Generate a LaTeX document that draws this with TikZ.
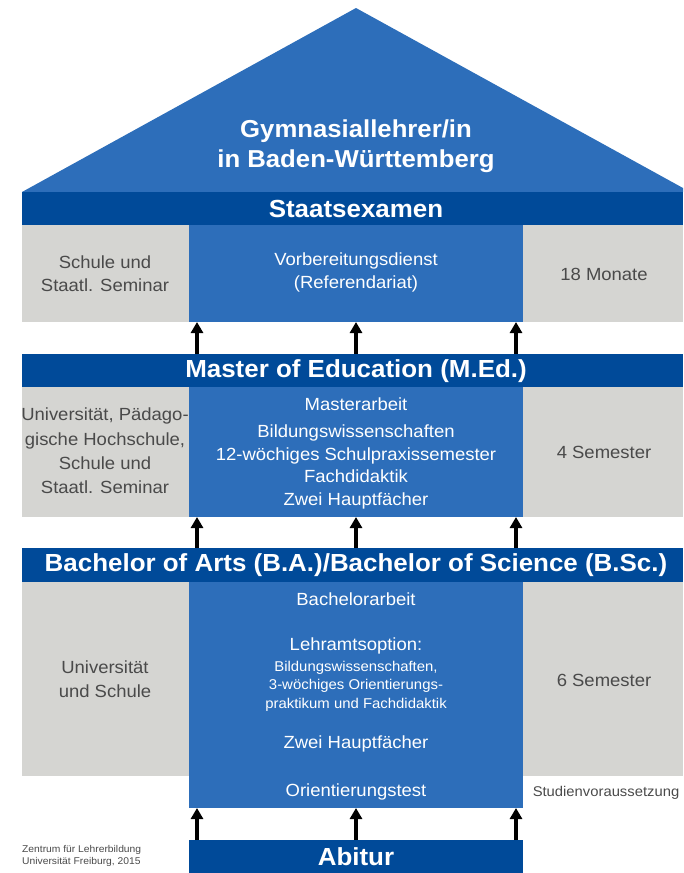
\documentclass[tikz,border=0pt]{standalone}
\usepackage{fontspec}
\setmainfont{Liberation Sans}[FakeStretch=1.05]
\usetikzlibrary{arrows.meta}
\definecolor{lblue}{RGB}{45,110,186}
\definecolor{dblue}{RGB}{0,74,153}
\definecolor{lgray}{RGB}{213,213,210}
\definecolor{tgray}{RGB}{74,74,74}
\tikzset{
  box/.style={inner sep=0pt, outer sep=0pt, anchor=north west},
  graybox/.style={box, fill=lgray},
  bluebox/.style={box, fill=lblue},
  barbox/.style={box, fill=dblue},
  bartxt/.style={text=white, inner sep=0pt, font=\bfseries\fontsize{24.7}{30}\selectfont},
  wtxt/.style={text=white, align=center, inner sep=0pt},
  gtxt/.style={text=tgray, align=center, inner sep=0pt},
  fbody/.style={font=\fontsize{17.6}{23}\selectfont},
  arr/.style={line width=3.2pt, -{Triangle[width=12pt,length=11pt]}}
}
\begin{document}
\begin{tikzpicture}[x=1pt,y=-1pt]
\useasboundingbox (0,0) rectangle (683,873);
% roof
\fill[lblue] (22,192) -- (356,8) -- (683,188) -- (683,192) -- cycle;
\node[text=white, align=center, inner sep=0pt, font=\bfseries\fontsize{24.5}{30}\selectfont] (title) at (356,146) {Gymnasiallehrer/in\\in Baden-Württemberg};
% Staatsexamen
\node[barbox, minimum width=661pt, minimum height=33pt] (staats) at (22,192) {};
% row 1
\node[graybox, minimum width=167pt, minimum height=97pt] (l1) at (22,225) {};
\node[bluebox, minimum width=334pt, minimum height=97pt] (c1) at (189,225) {};
\node[graybox, minimum width=160pt, minimum height=97pt] (r1) at (523,225) {};
% Master
\node[barbox, minimum width=661pt, minimum height=33pt] (master) at (22,354) {};
% row 2
\node[graybox, minimum width=167pt, minimum height=130pt] (l2) at (22,387) {};
\node[bluebox, minimum width=334pt, minimum height=130pt] (c2) at (189,387) {};
\node[graybox, minimum width=160pt, minimum height=130pt] (r2) at (523,387) {};
% Bachelor
\node[barbox, minimum width=661pt, minimum height=34pt] (bach) at (22,548) {};
% row 3
\node[graybox, minimum width=167pt, minimum height=194pt] (l3) at (22,582) {};
\node[bluebox, minimum width=334pt, minimum height=226pt] (c3) at (189,582) {};
\node[graybox, minimum width=160pt, minimum height=194pt] (r3) at (523,582) {};
% Abitur
\node[barbox, minimum width=334pt, minimum height=33pt] (abitur) at (189,840) {};

% bar texts
\node[bartxt] (tstaats) at (356,209) {Staatsexamen};
\node[bartxt] (tmaster) at (356,371) {Master of Education (M.Ed.)};
\node[bartxt] (tbach) at (356,565) {Bachelor of Arts (B.A.)/Bachelor of Science (B.Sc.)};
\node[bartxt] (tabitur) at (356,857) {Abitur};

% row 1 texts
\node[gtxt, fbody] (tl1) at (105,274) {Schule und\\Staatl. Seminar};
\node[wtxt, fbody] (tc1) at (356,272) {Vorbereitungsdienst\\(Referendariat)};
\node[gtxt, fbody] (tr1) at (604,274) {18 Monate};

% row 2 texts
\node[gtxt, font=\fontsize{17.6}{24.3}\selectfont] (tl2) at (105,451) {Universität, Pädago-\\gische Hochschule,\\Schule und\\Staatl. Seminar};
\node[wtxt, fbody] (tc2a) at (356,404) {Masterarbeit};
\node[wtxt, font=\fontsize{17.6}{22.7}\selectfont] (tc2b) at (356,467) {Bildungswissenschaften\\12-wöchiges Schulpraxissemester\\Fachdidaktik\\Zwei Hauptfächer};
\node[gtxt, fbody] (tr2) at (604,452) {4 Semester};

% row 3 texts
\node[gtxt, font=\fontsize{17.6}{24}\selectfont] (tl3) at (105,679) {Universität\\und Schule};
\node[wtxt, fbody] (tc3a) at (356,599) {Bachelorarbeit};
\node[wtxt, fbody] (tc3b) at (356,646) {Lehramtsoption:};
\node[wtxt, font=\fontsize{14.2}{18.5}\selectfont] (tc3c) at (356,686) {Bildungswissenschaften,\\3-wöchiges Orientierungs-\\praktikum und Fachdidaktik};
\node[wtxt, fbody] (tc3d) at (356,744) {Zwei Hauptfächer};
\node[wtxt, fbody] (tc3e) at (356,792) {Orientierungstest};
\node[gtxt, fbody] (tr3) at (604,680) {6 Semester};
\node[gtxt, font=\fontsize{14.1}{17}\selectfont] (stud) at (606,793) {Studienvoraussetzung};

% footnote
\node[gtxt, align=left, anchor=west, font=\fontsize{9.8}{12.5}\selectfont] (foot) at (22,856) {Zentrum für Lehrerbildung\\Universität Freiburg, 2015};

% arrows
\coordinate (ax1) at (197,0);
\coordinate (ax2) at (356,0);
\coordinate (ax3) at (516,0);
\foreach \a in {ax1,ax2,ax3} {
  \draw[arr] (\a |- master.north) -- (\a |- c1.south);
  \draw[arr] (\a |- bach.north) -- (\a |- c2.south);
  \draw[arr] (\a |- abitur.north) -- (\a |- c3.south);
}
\end{tikzpicture}
\end{document}
